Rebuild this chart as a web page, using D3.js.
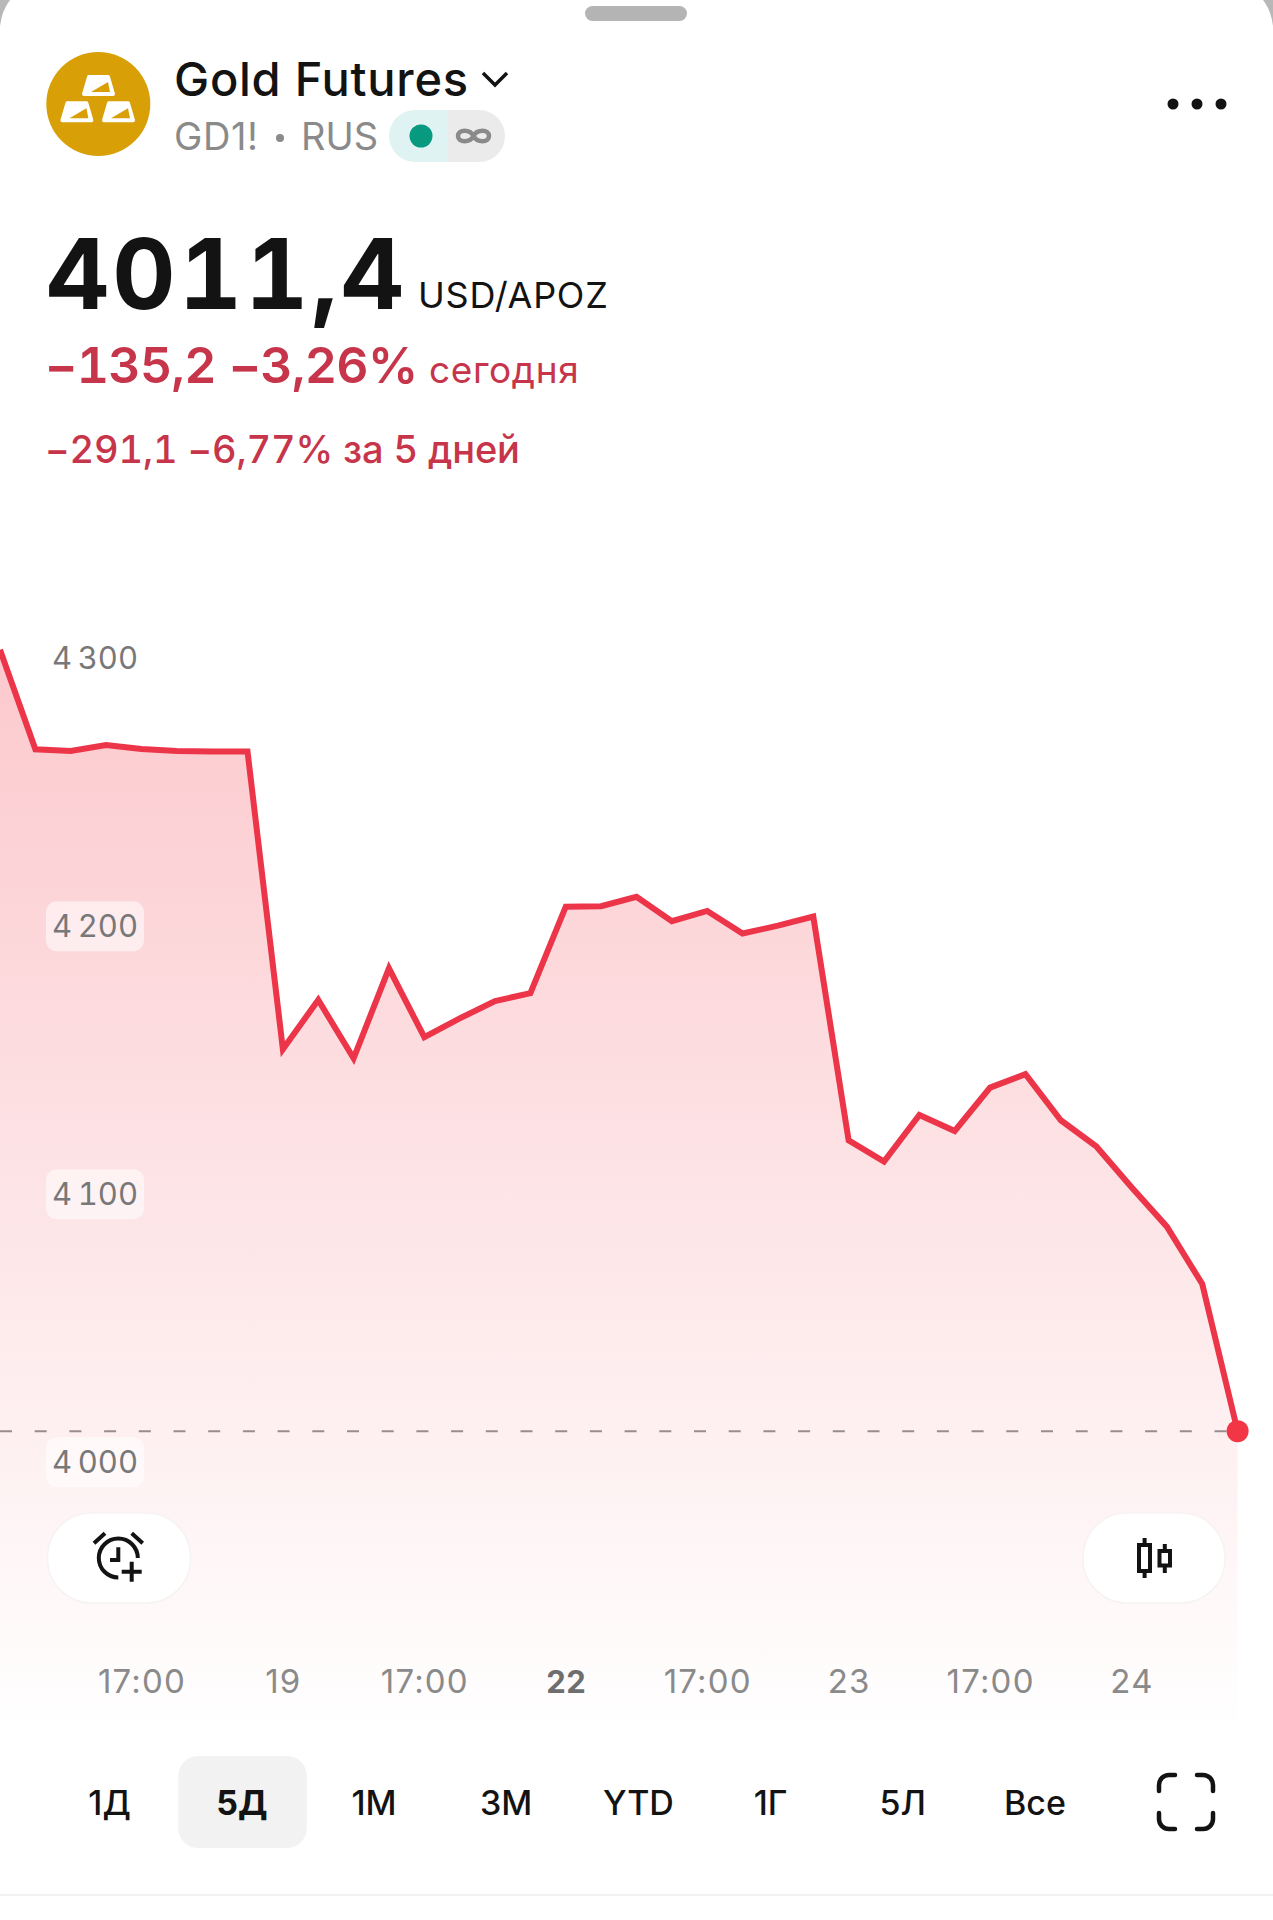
<!DOCTYPE html>
<html lang="ru">
<head>
<meta charset="utf-8">
<title>Gold Futures</title>
<script src="https://cdn.jsdelivr.net/npm/d3@7"></script>
<style>
html, body { margin: 0; padding: 0; background: #fff; }
svg { display: block; font-family: Inter, Roboto, sans-serif; }
.tnum { font-variant-numeric: tabular-nums; font-feature-settings: "tnum" 1; }
</style>
</head>
<body>
<div id="chart"></div>
<script>
// prices, one per half hour step on the 5D view
const prices = [
    4303, 4265.8, 4265.2, 4267.4, 4265.9, 4265.2, 4265, 4265, 4153.9,
    4172.3, 4150.5, 4184.1, 4158.4, 4165.4, 4171.9, 4174.8, 4207.1, 4207.3,
    4210.8, 4201.7, 4205.5, 4197.1, 4200, 4203.4, 4119.9, 4112, 4129.4,
    4123.4, 4139.6, 4144.6, 4127.4, 4117.7, 4102.4, 4087.7, 4066.3, 4011.4
];
const lastPrice = 4011.4;

const yTicks = [4300, 4200, 4100, 4000];
const xTickIndex = [4, 8, 12, 16, 20, 24, 28, 32];
const xTickLabels = ["17:00", "19", "17:00", "22", "17:00", "23", "17:00", "24"];
const ranges = ["1Д", "5Д", "1М", "3М", "YTD", "1Г", "5Л", "Все"];
const activeRange = "5Д";

const width = 1273, height = 1920;
const red = "#ec3549", textRed = "#c7354a", black = "#131313", grey = "#8a8a8a";

const svg = d3.select("#chart").append("svg")
    .attr("width", width)
    .attr("height", height);

// Scales
const x = d3.scaleLinear().domain([0, prices.length - 1]).range([0, 1237.6]);
const y = d3.scaleLinear().domain([4000, 4300]).range([1461.7, 657.7]);
const areaBottom = 1735;

const grad = svg.append("defs").append("linearGradient")
    .attr("id", "fade")
    .attr("gradientUnits", "userSpaceOnUse")
    .attr("x1", 0).attr("x2", 0)
    .attr("y1", y(prices[0])).attr("y2", areaBottom);
grad.append("stop").attr("offset", 0).attr("stop-color", "#f23645").attr("stop-opacity", 0.27);
grad.append("stop").attr("offset", 1).attr("stop-color", "#f23645").attr("stop-opacity", 0);

// Area and line
svg.append("path")
    .datum(prices)
    .attr("fill", "url(#fade)")
    .attr("d", d3.area().x((d, i) => x(i)).y0(areaBottom).y1(d => y(d)));

// last price line
svg.append("line")
    .attr("x1", 0).attr("x2", x(prices.length - 1))
    .attr("y1", y(lastPrice)).attr("y2", y(lastPrice))
    .attr("stroke", "#978d8f")
    .attr("stroke-width", 2)
    .attr("stroke-dasharray", "12 22.7");

svg.append("path")
    .datum(prices)
    .attr("fill", "none")
    .attr("stroke", red)
    .attr("stroke-width", 6)
    .attr("stroke-linejoin", "miter")
    .attr("d", d3.line().x((d, i) => x(i)).y(d => y(d)));

svg.append("circle")
    .attr("cx", x(prices.length - 1))
    .attr("cy", y(lastPrice))
    .attr("r", 11)
    .attr("fill", "#f23645");

// Y axis, labels sit on small pale pills
const yAxis = svg.append("g")
    .attr("transform", "translate(95,0)")
    .call(d3.axisRight(y).tickValues(yTicks).tickSize(0).tickPadding(0)
        .tickFormat(d => String(d).replace(/^(\d)/, "$1\u2009")));
yAxis.select(".domain").remove();
yAxis.selectAll(".tick").insert("rect", "text")
    .attr("x", -49).attr("y", -25)
    .attr("width", 98).attr("height", 50)
    .attr("rx", 11)
    .attr("fill", "#fff")
    .attr("fill-opacity", 0.55);
yAxis.selectAll("text")
    .attr("class", "tnum")
    .attr("text-anchor", "middle")
    .attr("x", 0)
    .attr("dy", "0.36em")
    .attr("fill", "#787878")
    .style("font-family", "Inter, Roboto, sans-serif")
    .style("font-size", "31px");

// X axis
const xAxis = svg.append("g")
    .attr("transform", "translate(0,1693)")
    .call(d3.axisBottom(x).tickValues(xTickIndex).tickSize(0).tickPadding(0)
        .tickFormat((d, i) => xTickLabels[i]));
xAxis.select(".domain").remove();
xAxis.selectAll("text")
    .attr("y", 0).attr("dy", 0)
    .attr("fill", grey)
    .style("font-family", "Inter, Roboto, sans-serif")
    .style("font-size", "33px")
    .style("letter-spacing", "1.2px")
    .filter(d => d === 16)
    .attr("fill", "#6e6e6e")
    .style("font-size", "31px")
    .style("letter-spacing", "0.6px")
    .style("font-weight", 700);

// Header
function label(txt, px, py, size, fill, weight, spacing) {
    return svg.append("text")
        .attr("x", px).attr("y", py)
        .attr("fill", fill)
        .style("font-size", size + "px")
        .style("font-weight", weight || 400)
        .style("letter-spacing", (spacing || 0) + "px")
        .text(txt);
}

// sheet handle and top corners
svg.append("rect").attr("x", 585).attr("y", 6).attr("width", 102).attr("height", 15).attr("rx", 7.5).attr("fill", "#b4b4b4");
svg.append("path").attr("d", "M0,0 L10,0 Q2,10 0,26 Z").attr("fill", "#b8b8b8");
svg.append("path").attr("d", "M1273,0 L1263,0 Q1271,10 1273,26 Z").attr("fill", "#b8b8b8");

// logo
const logo = svg.append("g");
logo.append("circle").attr("cx", 98.3).attr("cy", 104).attr("r", 52).attr("fill", "#d8a006");
[[0, 0], [-21.6, 26.3], [20, 26.3]].forEach(([dx, dy]) => {
    const bar = logo.append("g").attr("transform", `translate(${dx},${dy})`);
    bar.append("path")
        .attr("d", "M84,94 L89,77 L108,77 L113,94 Z")
        .attr("fill", "#fff").attr("stroke", "#fff")
        .attr("stroke-width", 4).attr("stroke-linejoin", "round");
    bar.append("path").attr("d", "M91,92 L108,82 L110,92 Z").attr("fill", "#d8a006");
});

label("Gold Futures", 174, 96, 47, black, 500, 0.75);
svg.append("path").attr("d", "M483,73 L495,85 L507,73")
    .attr("fill", "none").attr("stroke", black).attr("stroke-width", 3.5);

label("GD1!", 174, 150, 38, grey, 400, 0.6);
svg.append("circle").attr("cx", 280).attr("cy", 138).attr("r", 4).attr("fill", grey);
label("RUS", 301, 150, 38, grey);

// status pill
svg.append("path").attr("d", "M448,110 H415 a26,26 0 0 0 0,52 H448 Z").attr("fill", "#dff3f3");
svg.append("path").attr("d", "M448,110 H479 a26,26 0 0 1 0,52 H448 Z").attr("fill", "#ebebeb");
svg.append("circle").attr("cx", 421).attr("cy", 136).attr("r", 11.5).attr("fill", "#089981");
svg.append("path")
    .attr("d", "M473.5,136 C470,129 458,129 458,136 C458,143 470,143 473.5,136 C477,129 489,129 489,136 C489,143 477,143 473.5,136 Z")
    .attr("fill", "none").attr("stroke", grey).attr("stroke-width", 4.5);

// more menu
[1173, 1197, 1221].forEach(cx => {
    svg.append("circle").attr("cx", cx).attr("cy", 104).attr("r", 5.5).attr("fill", black);
});

// price block
label("4011,4", 46, 309, 98, black, 700, 3).attr("class", "tnum");
label("USD/APOZ", 418, 308, 36, black, 400, 0.75);
label("\u2212135,2 \u22123,26%", 45, 383, 50, textRed, 600, -0.7).attr("class", "tnum");
label("сегодня", 429, 383, 37, textRed, 400, 0.6);
label("\u2212291,1 \u22126,77% за 5 дней", 45, 463, 38, textRed, 500, -0.15).attr("class", "tnum");

// floating buttons
function pill(px, pw) {
    svg.append("rect")
        .attr("x", px).attr("y", 1513)
        .attr("width", pw).attr("height", 90)
        .attr("rx", 44)
        .attr("fill", "#fff")
        .attr("stroke", "#f8f3f3").attr("stroke-width", 1.5);
}
pill(47.5, 143);
pill(1083, 142);

const alarm = svg.append("g").attr("fill", "none").attr("stroke", black).attr("stroke-width", 4);
alarm.append("path").attr("d", "M118.3,1577.5 A19.5,19.5 0 1 1 137.8,1558");
alarm.append("path").attr("d", "M94,1543.3 L105,1533.3 M131.7,1533.3 L142.7,1543.3");
alarm.append("path").attr("d", "M118.3,1547.3 V1560 H110");
alarm.append("path").attr("d", "M121.7,1571.7 H141.7 M131.7,1561.7 V1581.7");

const candles = svg.append("g").attr("fill", "none").attr("stroke", black).attr("stroke-width", 4);
candles.append("rect").attr("x", 1139).attr("y", 1545).attr("width", 11).attr("height", 26);
candles.append("path").attr("d", "M1144.6,1538 V1545 M1144.6,1571 V1578");
candles.append("rect").attr("x", 1159.5).attr("y", 1551).attr("width", 10.5).attr("height", 14.5);
candles.append("path").attr("d", "M1164.8,1544 V1551 M1164.8,1565.5 V1573");

// range selector
const rangeX = d3.scalePoint().domain(ranges).range([109.6, 1035]);
svg.append("rect")
    .attr("x", rangeX(activeRange) - 63.5).attr("y", 1756)
    .attr("width", 128.5).attr("height", 92)
    .attr("rx", 20)
    .attr("fill", "#f2f2f2");
svg.selectAll(".range")
    .data(ranges)
    .enter().append("text")
    .attr("class", "range")
    .attr("x", d => rangeX(d))
    .attr("y", 1815)
    .attr("text-anchor", "middle")
    .attr("fill", black)
    .style("font-size", "34px")
    .style("font-weight", d => d === activeRange ? 700 : 500)
    .text(d => d);

// fullscreen corners
svg.append("path")
    .attr("d", "M1159,1791 V1785 a10,10 0 0 1 10,-10 H1175 M1197,1775 H1203 a10,10 0 0 1 10,10 V1791 M1213,1813 V1819 a10,10 0 0 1 -10,10 H1197 M1175,1829 H1169 a10,10 0 0 1 -10,-10 V1813")
    .attr("fill", "none").attr("stroke", black).attr("stroke-width", 4.5).attr("stroke-linecap", "round");

// bottom rule
svg.append("line").attr("x1", 0).attr("x2", width).attr("y1", 1895).attr("y2", 1895)
    .attr("stroke", "#ececec").attr("stroke-width", 1.5);
</script>
</body>
</html>
